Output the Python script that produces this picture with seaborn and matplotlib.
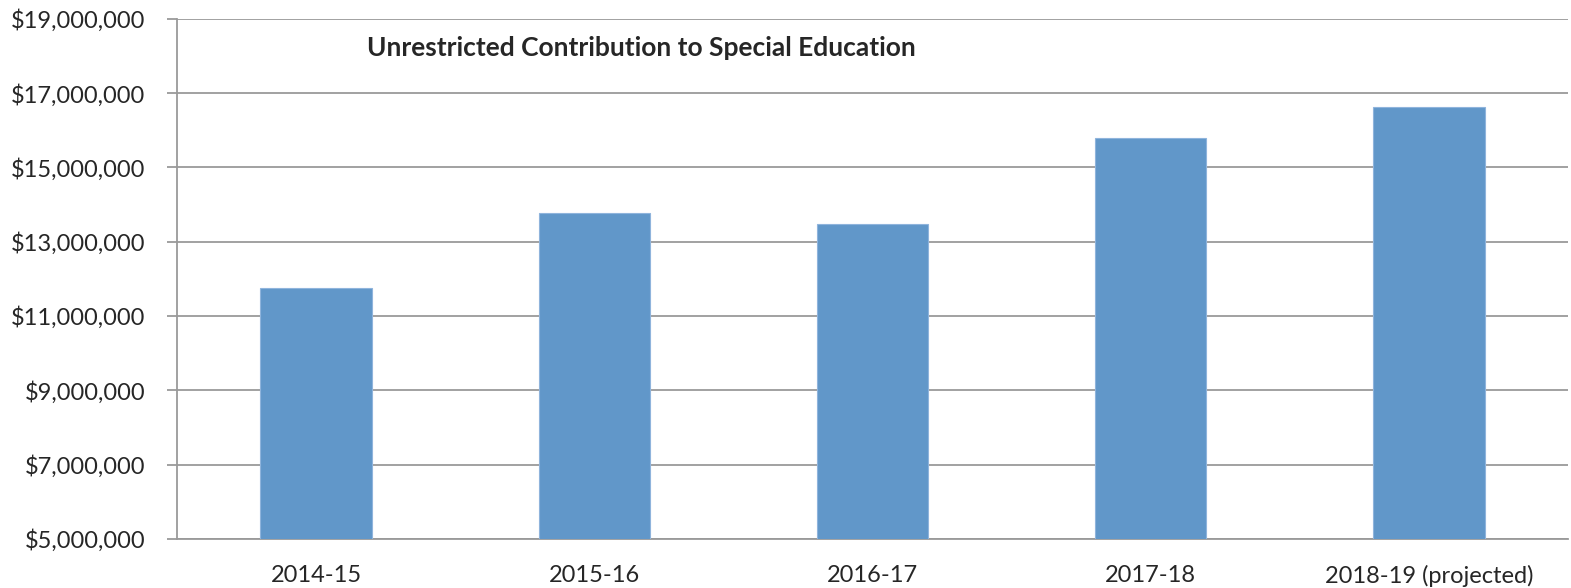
import matplotlib
matplotlib.use("Agg")
import matplotlib.pyplot as plt
import seaborn as sns
import pandas as pd
from matplotlib.ticker import FuncFormatter, FixedLocator

# values
years = ["2014-15", "2015-16", "2016-17", "2017-18", "2018-19 (projected)"]
contribution = [11750000, 13770000, 13480000, 15780000, 16630000]
y_ticks = [5000000, 7000000, 9000000, 11000000, 13000000, 15000000, 17000000, 19000000]

df = pd.DataFrame({"year": years, "amount": contribution})

sns.set_style("white")
plt.rcParams["font.family"] = ["Lato", "DejaVu Sans"]

fig = plt.figure(figsize=(15.71, 5.88), dpi=100)
ax = fig.add_axes([177 / 1571, 1 - 539 / 588, (1568 - 177) / 1571, (539 - 18.7) / 588])

sns.barplot(data=df, x="year", y="amount", color="#6197c9", saturation=1,
            width=0.4, edgecolor="#8fb4dc", linewidth=0.8, ax=ax, zorder=3)

ax.set_xlim(-0.5, len(years) - 0.5)
ax.set_ylim(y_ticks[0], y_ticks[-1])
ax.set_yticks(y_ticks)
ax.yaxis.set_major_formatter(FuncFormatter(lambda v, p: f"${v:,.0f}"))
ax.grid(axis="y", color="#9a9a9a", linewidth=1.3, zorder=0)
ax.set_axisbelow(True)

# category boundary ticks on the x axis
ax.xaxis.set_minor_locator(FixedLocator([i - 0.5 for i in range(len(years) + 1)]))
ax.tick_params(axis="x", which="major", length=0, pad=19, labelsize=17)
ax.tick_params(axis="x", which="minor", length=7, width=1.3, color="#9a9a9a")
ax.tick_params(axis="y", which="major", length=7, width=1.3, color="#9a9a9a",
               labelsize=17, pad=16, left=True)

for s in ["top", "right"]:
    ax.spines[s].set_visible(False)
for s in ["left", "bottom"]:
    ax.spines[s].set_color("#9a9a9a")
    ax.spines[s].set_linewidth(1.3)

ax.set_xlabel("")
ax.set_ylabel("")
ax.text(367 / 1571, 1 - 48 / 588, "Unrestricted Contribution to Special Education",
        transform=fig.transFigure, fontsize=19, fontweight="bold", va="center", ha="left")

fig.savefig("out.png", dpi=100)
